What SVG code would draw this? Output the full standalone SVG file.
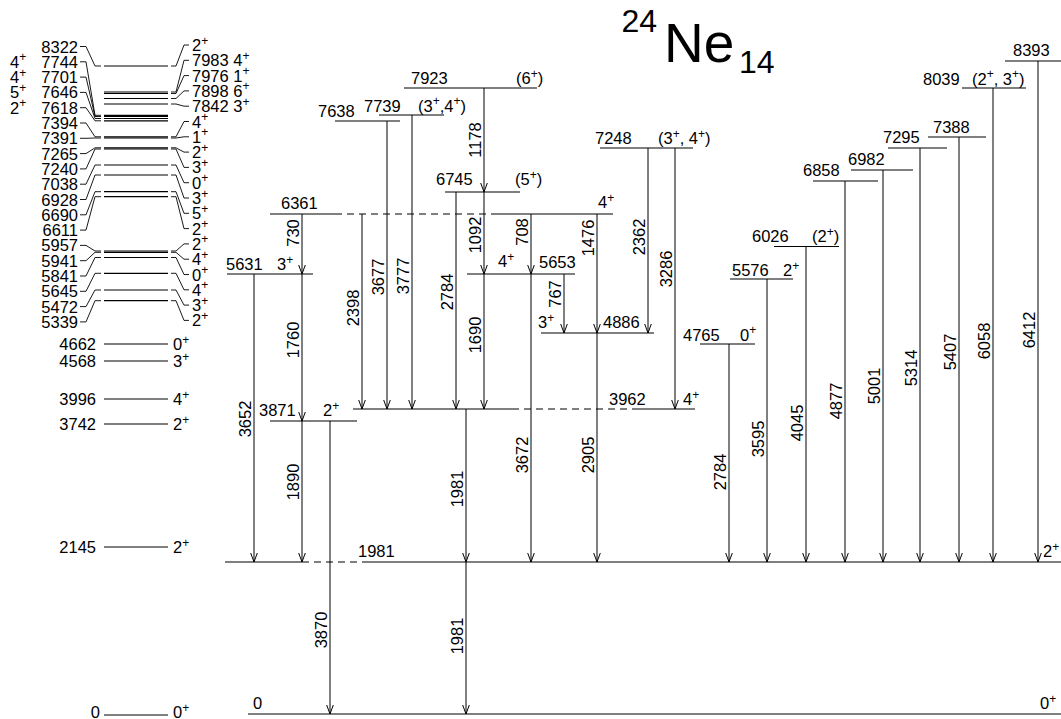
<svg xmlns="http://www.w3.org/2000/svg" width="1061" height="719" viewBox="0 0 1061 719">
<defs>
<marker id="ah" viewBox="-10 -5 12 10" refX="0" refY="0" markerWidth="12" markerHeight="10" markerUnits="userSpaceOnUse" orient="auto"><path d="M-9,-3.3 L0,0 L-9,3.3" fill="none" stroke="#000" stroke-width="1"/></marker>
<style>
text{font-family:"Liberation Sans",Arial,Helvetica,sans-serif;font-size:16.5px;fill:#000}
.s{font-size:12px}
.lv{stroke:#000;stroke-width:1.2;fill:none}
.dl{stroke:#000;stroke-width:1.2;stroke-dasharray:7 5;fill:none}
.tr{stroke:#000;stroke-width:1;fill:none;marker-end:url(#ah)}
.ld{stroke:#000;stroke-width:0.9;fill:none}
.tl{text-anchor:middle}
.e{text-anchor:end}
</style>
</defs>
<rect width="1061" height="719" fill="#fff"/>

<g id="title">
<text x="621.5" y="32" style="font-size:32px">24</text>
<text x="664" y="62" style="font-size:55px">Ne</text>
<text x="739" y="73" style="font-size:32px">14</text>
</g>

<!-- theory column -->
<g id="theory">
<g id="th-0"><line class="lv" x1="104" y1="715" x2="168" y2="715"/><text class="e" x="100" y="718">0</text><text x="173" y="718">0<tspan class="s" dy="-6.5">+</tspan></text></g>
<g id="th-2145"><line class="lv" x1="104" y1="547" x2="168" y2="547"/><text class="e" x="96" y="553">2145</text><text x="173" y="553">2<tspan class="s" dy="-6.5">+</tspan></text></g>
<g id="th-3742"><line class="lv" x1="104" y1="424" x2="168" y2="424"/><text class="e" x="96" y="430">3742</text><text x="173" y="430">2<tspan class="s" dy="-6.5">+</tspan></text></g>
<g id="th-3996"><line class="lv" x1="104" y1="399" x2="168" y2="399"/><text class="e" x="96" y="405">3996</text><text x="173" y="405">4<tspan class="s" dy="-6.5">+</tspan></text></g>
<g id="th-4568"><line class="lv" x1="104" y1="361" x2="168" y2="361"/><text class="e" x="96" y="367">4568</text><text x="173" y="367">3<tspan class="s" dy="-6.5">+</tspan></text></g>
<g id="th-4662"><line class="lv" x1="104" y1="344" x2="168" y2="344"/><text class="e" x="96" y="350">4662</text><text x="173" y="350">0<tspan class="s" dy="-6.5">+</tspan></text></g>

<g id="th-5339"><line class="lv" x1="104" y1="300.7" x2="168" y2="300.7"/><text class="e" x="78" y="327.9">5339</text><path class="ld" d="M80,321.9H86L95,300.7H101"/><path class="ld" d="M171,300.7H176L184,320.4H189"/><text x="192" y="326.4">2<tspan class="s" dy="-6.5">+</tspan></text></g>
<g id="th-5472"><line class="lv" x1="104" y1="290" x2="168" y2="290"/><text class="e" x="78" y="312.6">5472</text><path class="ld" d="M80,306.6H86L95,290H101"/><path class="ld" d="M171,290H176L184,305.1H189"/><text x="192" y="311.1">3<tspan class="s" dy="-6.5">+</tspan></text></g>
<g id="th-5645"><line class="lv" x1="104" y1="273.3" x2="168" y2="273.3"/><text class="e" x="78" y="297.3">5645</text><path class="ld" d="M80,291.3H86L95,273.3H101"/><path class="ld" d="M171,273.3H176L184,289.8H189"/><text x="192" y="295.8">4<tspan class="s" dy="-6.5">+</tspan></text></g>
<g id="th-5841"><line class="lv" x1="104" y1="257.5" x2="168" y2="257.5"/><text class="e" x="78" y="282">5841</text><path class="ld" d="M80,276H86L95,257.5H101"/><path class="ld" d="M171,257.5H176L184,274.5H189"/><text x="192" y="280.5">0<tspan class="s" dy="-6.5">+</tspan></text></g>
<g id="th-5941"><line class="lv" x1="104" y1="252.3" x2="168" y2="252.3"/><text class="e" x="78" y="266.7">5941</text><path class="ld" d="M80,260.7H86L95,252.3H101"/><path class="ld" d="M171,252.3H176L184,259.2H189"/><text x="192" y="265.2">4<tspan class="s" dy="-6.5">+</tspan></text></g>
<g id="th-5957"><line class="lv" x1="104" y1="251" x2="168" y2="251"/><text class="e" x="78" y="251.4">5957</text><path class="ld" d="M80,245.4H86L95,251H101"/><path class="ld" d="M171,251H176L184,243.9H189"/><text x="192" y="249.9">2<tspan class="s" dy="-6.5">+</tspan></text></g>
<g id="th-6611"><line class="lv" x1="104" y1="196.7" x2="168" y2="196.7"/><text class="e" x="78" y="236.1">6611</text><path class="ld" d="M80,230.1H86L95,196.7H101"/><path class="ld" d="M171,196.7H176L184,228.6H189"/><text x="192" y="234.6">2<tspan class="s" dy="-6.5">+</tspan></text></g>
<g id="th-6690"><line class="lv" x1="104" y1="191.7" x2="168" y2="191.7"/><text class="e" x="78" y="220.8">6690</text><path class="ld" d="M80,214.8H86L95,191.7H101"/><path class="ld" d="M171,191.7H176L184,213.3H189"/><text x="192" y="219.3">5<tspan class="s" dy="-6.5">+</tspan></text></g>
<g id="th-6928"><line class="lv" x1="104" y1="175" x2="168" y2="175"/><text class="e" x="78" y="205.5">6928</text><path class="ld" d="M80,199.5H86L95,175H101"/><path class="ld" d="M171,175H176L184,198H189"/><text x="192" y="204">3<tspan class="s" dy="-6.5">+</tspan></text></g>
<g id="th-7038"><line class="lv" x1="104" y1="165" x2="168" y2="165"/><text class="e" x="78" y="190.2">7038</text><path class="ld" d="M80,184.2H86L95,165H101"/><path class="ld" d="M171,165H176L184,182.7H189"/><text x="192" y="188.7">0<tspan class="s" dy="-6.5">+</tspan></text></g>
<g id="th-7240"><line class="lv" x1="104" y1="149" x2="168" y2="149"/><text class="e" x="78" y="174.9">7240</text><path class="ld" d="M80,168.9H86L95,149H101"/><path class="ld" d="M171,149H176L184,167.4H189"/><text x="192" y="173.4">3<tspan class="s" dy="-6.5">+</tspan></text></g>
<g id="th-7265"><line class="lv" x1="104" y1="147.8" x2="168" y2="147.8"/><text class="e" x="78" y="159.6">7265</text><path class="ld" d="M80,153.6H86L95,147.8H101"/><path class="ld" d="M171,147.8H176L184,152.1H189"/><text x="192" y="158.1">2<tspan class="s" dy="-6.5">+</tspan></text></g>
<g id="th-7391"><line class="lv" x1="104" y1="138" x2="168" y2="138"/><text class="e" x="78" y="144.3">7391</text><path class="ld" d="M80,138.3H86L95,138H101"/><path class="ld" d="M171,138H176L184,136.8H189"/><text x="192" y="142.8">1<tspan class="s" dy="-6.5">+</tspan></text></g>
<g id="th-7394"><line class="lv" x1="104" y1="136.8" x2="168" y2="136.8"/><text class="e" x="78" y="129">7394</text><path class="ld" d="M80,123H86L95,136.8H101"/><path class="ld" d="M171,136.8H176L184,121.5H189"/><text x="192" y="127.5">4<tspan class="s" dy="-6.5">+</tspan></text></g>
<g id="th-7618"><line class="lv" x1="104" y1="120.8" x2="168" y2="120.8"/><text class="e" x="78" y="113.7">7618</text><text x="10" y="113.7">2<tspan class="s" dy="-6.5">+</tspan></text><path class="ld" d="M80,107.7H86L95,120.8H101"/></g>
<g id="th-7646"><line class="lv" x1="104" y1="118.5" x2="168" y2="118.5"/><text class="e" x="78" y="98.4">7646</text><text x="10" y="98.4">5<tspan class="s" dy="-6.5">+</tspan></text><path class="ld" d="M80,92.4H86L95,118.5H101"/></g>
<g id="th-7701"><line class="lv" x1="104" y1="116.5" x2="168" y2="116.5"/><text class="e" x="78" y="83.1">7701</text><text x="10" y="83.1">4<tspan class="s" dy="-6.5">+</tspan></text><path class="ld" d="M80,77.1H86L95,116.5H101"/></g>
<g id="th-7744"><line class="lv" x1="104" y1="115.3" x2="168" y2="115.3"/><text class="e" x="78" y="67.8">7744</text><text x="10" y="67.8">4<tspan class="s" dy="-6.5">+</tspan></text><path class="ld" d="M80,61.8H86L95,115.3H101"/></g>
<g id="th-7842"><line class="lv" x1="104" y1="104" x2="168" y2="104"/><path class="ld" d="M171,104H176L184,106.2H189"/><text x="192" y="112.2">7842 3<tspan class="s" dy="-6.5">+</tspan></text></g>
<g id="th-7898"><line class="lv" x1="104" y1="98.5" x2="168" y2="98.5"/><path class="ld" d="M171,98.5H176L184,90.9H189"/><text x="192" y="96.9">7898 6<tspan class="s" dy="-6.5">+</tspan></text></g>
<g id="th-7976"><line class="lv" x1="104" y1="93.5" x2="168" y2="93.5"/><path class="ld" d="M171,93.5H176L184,75.6H189"/><text x="192" y="81.6">7976 1<tspan class="s" dy="-6.5">+</tspan></text></g>
<g id="th-7983"><line class="lv" x1="104" y1="92" x2="168" y2="92"/><path class="ld" d="M171,92H176L184,60.3H189"/><text x="192" y="66.3">7983 4<tspan class="s" dy="-6.5">+</tspan></text></g>
<g id="th-8322"><line class="lv" x1="104" y1="66" x2="168" y2="66"/><text class="e" x="78" y="52.5">8322</text><path class="ld" d="M80,46.5H86L95,66H101"/><path class="ld" d="M171,66H176L184,45H189"/><text x="192" y="51">2<tspan class="s" dy="-6.5">+</tspan></text></g>
</g>

<!-- experimental levels -->
<g id="levels">
<g id="L0"><line class="lv" x1="248" y1="714" x2="1061" y2="714"/><text x="253" y="709">0</text><text x="1040" y="709">0<tspan class="s" dy="-6.5">+</tspan></text></g>
<g id="L1981"><path class="lv" d="M225,562H302"/><path class="dl" d="M302,562H367"/><path class="lv" d="M367,562H1061"/><text x="358" y="557">1981</text><text x="1043" y="557">2<tspan class="s" dy="-6.5">+</tspan></text></g>
<g id="L3871"><line class="lv" x1="270" y1="421" x2="357" y2="421"/><text x="259" y="416">3871</text><text x="323" y="416">2<tspan class="s" dy="-6.5">+</tspan></text></g>
<g id="L3962"><path class="lv" d="M353,409H512"/><path class="dl" d="M512,409H635"/><path class="lv" d="M635,409H695"/><text x="609" y="405">3962</text><text x="683" y="405">4<tspan class="s" dy="-6.5">+</tspan></text></g>
<g id="L4765"><line class="lv" x1="700" y1="344" x2="755" y2="344"/><text x="683" y="340.5">4765</text><text x="740" y="340.5">0<tspan class="s" dy="-6.5">+</tspan></text></g>
<g id="L4886"><line class="lv" x1="541" y1="333" x2="654" y2="333"/><text x="603" y="328">4886</text><text x="538" y="328">3<tspan class="s" dy="-6.5">+</tspan></text></g>
<g id="L5576"><line class="lv" x1="730" y1="279" x2="793" y2="279"/><text x="732" y="276">5576</text><text x="783" y="276">2<tspan class="s" dy="-6.5">+</tspan></text></g>
<g id="L5631"><line class="lv" x1="227" y1="274" x2="313" y2="274"/><text x="226" y="270">5631</text><text x="277" y="270">3<tspan class="s" dy="-6.5">+</tspan></text></g>
<g id="L5653"><line class="lv" x1="467" y1="274" x2="575" y2="274"/><text x="539" y="268">5653</text><text x="498" y="267">4<tspan class="s" dy="-6.5">+</tspan></text></g>
<g id="L6026"><line class="lv" x1="774" y1="246.5" x2="839" y2="246.5"/><text x="752" y="242">6026</text><text x="812" y="242">(2<tspan class="s" dy="-6.5">+</tspan><tspan dy="6.5">)</tspan></text></g>
<g id="L6361"><path class="lv" d="M270,214H335"/><path class="dl" d="M335,214H493"/><path class="lv" d="M493,214H613"/><text x="281" y="209">6361</text><text x="598" y="208">4<tspan class="s" dy="-6.5">+</tspan></text></g>
<g id="L6745"><line class="lv" x1="445" y1="192" x2="520" y2="192"/><text x="436" y="185">6745</text><text x="515" y="185">(5<tspan class="s" dy="-6.5">+</tspan><tspan dy="6.5">)</tspan></text></g>
<g id="L6858"><line class="lv" x1="813" y1="181" x2="878" y2="181"/><text x="803" y="176">6858</text></g>
<g id="L6982"><line class="lv" x1="851" y1="170" x2="913" y2="170"/><text x="848" y="165">6982</text></g>
<g id="L7248"><line class="lv" x1="600" y1="148" x2="693" y2="148"/><text x="595" y="144">7248</text><text x="658" y="144">(3<tspan class="s" dy="-6.5">+</tspan><tspan dy="6.5">, 4</tspan><tspan class="s" dy="-6.5">+</tspan><tspan dy="6.5">)</tspan></text></g>
<g id="L7295"><line class="lv" x1="888" y1="148" x2="947" y2="148"/><text x="883" y="143">7295</text></g>
<g id="L7388"><line class="lv" x1="928" y1="137" x2="986" y2="137"/><text x="933" y="133">7388</text></g>
<g id="L7638"><line class="lv" x1="335" y1="121" x2="400" y2="121"/><text x="318" y="117">7638</text></g>
<g id="L7739"><line class="lv" x1="379" y1="115" x2="444" y2="115"/><text x="364" y="111.5">7739</text><text x="418" y="111.5">(3<tspan class="s" dy="-6.5">+</tspan><tspan dy="6.5">,4</tspan><tspan class="s" dy="-6.5">+</tspan><tspan dy="6.5">)</tspan></text></g>
<g id="L7923"><line class="lv" x1="404" y1="88" x2="537" y2="88"/><text x="411" y="84">7923</text><text x="516" y="84">(6<tspan class="s" dy="-6.5">+</tspan><tspan dy="6.5">)</tspan></text></g>
<g id="L8039"><line class="lv" x1="962" y1="88" x2="1026" y2="88"/><text x="923" y="84.5">8039</text><text x="972" y="84.5">(2<tspan class="s" dy="-6.5">+</tspan><tspan dy="6.5">, 3</tspan><tspan class="s" dy="-6.5">+</tspan><tspan dy="6.5">)</tspan></text></g>
<g id="L8393"><line class="lv" x1="1005" y1="61" x2="1061" y2="61"/><text x="1013" y="56">8393</text></g>
</g>

<!-- transitions -->
<g id="connectors">
<path class="tr" d="M254,274V562"/><text class="tl" transform="translate(250.5,419) rotate(-90)">3652</text>
<path class="tr" d="M302,214V274"/><text class="tl" transform="translate(298.5,233) rotate(-90)">730</text>
<path class="tr" d="M302,274V421"/><text class="tl" transform="translate(298.5,340) rotate(-90)">1760</text>
<path class="tr" d="M302,421V562"/><text class="tl" transform="translate(298.5,482) rotate(-90)">1890</text>
<path class="tr" d="M330,421V714"/><text class="tl" transform="translate(326.5,630) rotate(-90)">3870</text>
<path class="tr" d="M362,214V409"/><text class="tl" transform="translate(358.5,308) rotate(-90)">2398</text>
<path class="tr" d="M387,121V409"/><text class="tl" transform="translate(383.5,277) rotate(-90)">3677</text>
<path class="tr" d="M412,115V409"/><text class="tl" transform="translate(408.5,276) rotate(-90)">3777</text>
<path class="tr" d="M456,192V409"/><text class="tl" transform="translate(452.5,292) rotate(-90)">2784</text>
<path class="tr" d="M484,88V192"/><text class="tl" transform="translate(480.5,140) rotate(-90)">1178</text>
<path class="tr" d="M484,192V274"/><text class="tl" transform="translate(480.5,235) rotate(-90)">1092</text>
<path class="tr" d="M484,274V409"/><text class="tl" transform="translate(480.5,335) rotate(-90)">1690</text>
<path class="tr" d="M466,409V562"/><text class="tl" transform="translate(462.5,489) rotate(-90)">1981</text>
<path class="tr" d="M466,562V714"/><text class="tl" transform="translate(462.5,636) rotate(-90)">1981</text>
<path class="tr" d="M531,214V274"/><text class="tl" transform="translate(527.5,232) rotate(-90)">708</text>
<path class="tr" d="M531,274V562"/><text class="tl" transform="translate(527.5,455) rotate(-90)">3672</text>
<path class="tr" d="M564,274V333"/><text class="tl" transform="translate(560.5,294) rotate(-90)">767</text>
<path class="tr" d="M597,214V333"/><text class="tl" transform="translate(593.5,238) rotate(-90)">1476</text>
<path class="tr" d="M597,333V562"/><text class="tl" transform="translate(593.5,455) rotate(-90)">2905</text>
<path class="tr" d="M648,148V333"/><text class="tl" transform="translate(644.5,237) rotate(-90)">2362</text>
<path class="tr" d="M675,148V409"/><text class="tl" transform="translate(671.5,269) rotate(-90)">3286</text>
<path class="tr" d="M729,344V562"/><text class="tl" transform="translate(725.5,472) rotate(-90)">2784</text>
<path class="tr" d="M767,279V562"/><text class="tl" transform="translate(763.5,439) rotate(-90)">3595</text>
<path class="tr" d="M806,246.5V562"/><text class="tl" transform="translate(802.5,423) rotate(-90)">4045</text>
<path class="tr" d="M845,181V562"/><text class="tl" transform="translate(841.5,401) rotate(-90)">4877</text>
<path class="tr" d="M883,170V562"/><text class="tl" transform="translate(879.5,386) rotate(-90)">5001</text>
<path class="tr" d="M920,148V562"/><text class="tl" transform="translate(916.5,368) rotate(-90)">5314</text>
<path class="tr" d="M959,137V562"/><text class="tl" transform="translate(955.5,352) rotate(-90)">5407</text>
<path class="tr" d="M993,88V562"/><text class="tl" transform="translate(989.5,341) rotate(-90)">6058</text>
<path class="tr" d="M1038,61V562"/><text class="tl" transform="translate(1034.5,330) rotate(-90)">6412</text>
</g>
</svg>
